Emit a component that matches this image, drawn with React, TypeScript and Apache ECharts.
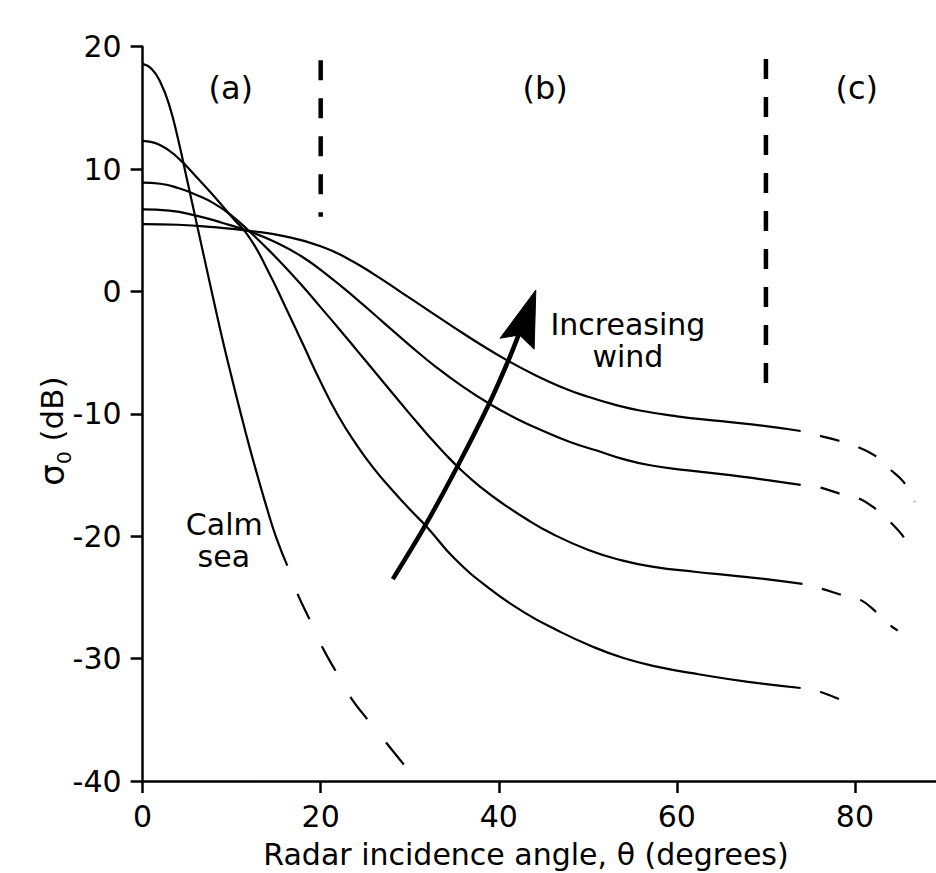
import React, { useEffect, useRef } from "react";
import * as echarts from "echarts";

// ---------- data ----------
const X_TICKS = [0, 20, 40, 60, 80];
const Y_TICKS = [-40, -30, -20, -10, 0, 10, 20];

// Calm sea curve (solid part, then dashed extrapolation)
const CALM_SEA = [
  [0, 18.6], [1, 18.2], [2, 17.1], [3, 15.2], [4, 12.4], [5, 9.1], [6, 5.8],
  [7, 2.5], [8, -0.8], [9, -4.0], [10, -7.0], [11, -9.9], [12, -12.7],
  [13, -15.3], [14, -17.8], [15, -20.1], [16.25, -22.4],
];
const CALM_SEA_EXT = [
  [16.25, -22.4], [17.4, -24.7], [18.75, -26.8], [20.2, -29.1], [21.75, -31.1],
  [23.4, -33.2], [25.4, -35.1], [27.5, -37.0], [29.5, -38.8],
];

// Wind curves, lowest wind first
const WIND_1 = [
  [0, 12.3], [2, 11.95], [4, 10.9], [6, 9.4], [8, 7.8], [10, 6.1], [12, 4.4],
  [14, 1.8], [16, -1.2], [18, -4.3], [20, -7.4], [22, -10.2], [24, -12.5],
  [26, -14.5], [28, -16.2], [30, -17.8], [32, -19.3], [35, -21.8], [39, -24.3],
  [42.8, -26.2], [46.6, -27.7], [50.3, -28.95], [54, -29.95], [58, -30.7],
  [62.6, -31.3], [68, -31.9], [73.9, -32.4],
];
const WIND_1_EXT = [[73.9, -32.4], [75.6, -32.6], [78.5, -33.4]];

const WIND_2 = [
  [0, 8.9], [2, 8.8], [4, 8.45], [6, 7.9], [8, 7.2], [10, 6.2], [12, 4.9],
  [14, 3.5], [16, 2.0], [18, 0.4], [20, -1.3], [22, -3.0], [24, -4.75],
  [26, -6.5], [28, -8.25], [30, -10.0], [32, -11.7], [34, -13.3], [36, -14.75],
  [38, -16.0], [40, -17.1], [43, -18.55], [46, -19.8], [50, -21.1],
  [53.7, -21.95], [57.4, -22.5], [62, -22.9], [66, -23.2], [70, -23.5],
  [74.1, -23.9],
];
const WIND_2_EXT = [
  [74.1, -23.9], [76.3, -24.3], [78.5, -24.8], [80.6, -25.2], [82.4, -26.2],
  [84.0, -27.3], [84.8, -27.7],
];

const WIND_3 = [
  [0, 6.7], [3, 6.6], [6, 6.2], [9, 5.6], [12, 4.9], [15, 4.0], [18, 2.8],
  [21, 1.2], [24, -0.6], [27, -2.5], [30, -4.4], [33, -6.2], [36, -7.8],
  [39, -9.2], [42, -10.4], [45, -11.4], [48, -12.3], [51, -13.0], [54, -13.7],
  [57, -14.2], [61, -14.6], [66, -15.0], [70, -15.4], [73.9, -15.8],
];
const WIND_3_EXT = [
  [73.9, -15.8], [76.0, -16.0], [78.2, -16.5], [80.4, -16.9], [82.2, -17.7],
  [83.9, -18.8], [85.4, -20.0], [86.6, -21.4],
];

const WIND_4 = [
  [0, 5.5], [4, 5.45], [8, 5.25], [12, 4.95], [16, 4.5], [20, 3.7],
  [23, 2.7], [26, 1.4], [29, -0.05], [32, -1.5], [35, -2.95], [38, -4.35],
  [41, -5.65], [44, -6.8], [47, -7.8], [50, -8.6], [53, -9.25], [56, -9.75],
  [60, -10.2], [65, -10.6], [70, -11.0], [73.9, -11.4],
];
const WIND_4_EXT = [
  [73.9, -11.4], [76.1, -11.8], [78.2, -12.2], [80.3, -12.7], [82.2, -13.4],
  [83.9, -14.5], [85.5, -15.6], [86.7, -17.2],
];

// Region boundaries (dashed verticals)
const BOUNDARY_AB = [[20, 18.9], [20, 6.1]];
const BOUNDARY_BC = [[70, 19.0], [70, -8.0]];

// Increasing-wind arrow (data coordinates)
const ARROW_SHAFT = [
  [28.1, -23.5], [31.6, -19.3], [35.5, -14.1], [38.9, -9.2], [41.1, -5.6],
  [42.3, -3.4],
];
const ARROW_HEAD = [[44.16, 0.12], [43.97, -4.72], [42.32, -3.55], [40.15, -3.82]];

// Annotation texts
const REGION_NAMES = ["(a)", "(b)", "(c)"];
const REGION_NAME_POS = [[9.9, 16.6], [45.2, 16.6], [80.2, 16.6]];
const CALM_LABEL = ["Calm", "sea"];
const CALM_LABEL_POS = [[9.17, -19.05], [9.12, -21.66]];
const WIND_LABEL = ["Increasing", "wind"];
const WIND_LABEL_POS = [[54.5, -2.7], [54.5, -5.3]];

const FONT = "'DejaVu Sans', 'Liberation Sans', sans-serif";

export default function App() {
  const ref = useRef<HTMLDivElement>(null);

  useEffect(() => {
    if (!ref.current) return;
    const chart = echarts.init(ref.current, null, { renderer: "svg" });

    const curve = (name: string, data: number[][]) => ({
      type: "line",
      name,
      data,
      showSymbol: false,
      symbol: "none",
      smooth: 0.5,
      silent: true,
      lineStyle: { color: "#000", width: 2.2 },
      z: 3,
    });
    const dashed = (name: string, data: number[][], dash: number[]) => ({
      type: "line",
      name,
      data,
      showSymbol: false,
      symbol: "none",
      smooth: 0.4,
      silent: true,
      lineStyle: { color: "#000", width: 2.2, type: dash, dashOffset: dash[0] },
      z: 3,
    });
    const boundary = (name: string, data: number[][]) => ({
      type: "line",
      name,
      data,
      showSymbol: false,
      symbol: "none",
      silent: true,
      lineStyle: { color: "#000", width: 4.5, type: [20, 18], cap: "butt" },
      z: 2,
    });

    const axisCommon = {
      axisLine: { show: true, onZero: false, lineStyle: { color: "#000", width: 2.5 } },
      axisTick: { show: true, inside: false, length: 12, lineStyle: { color: "#000", width: 2.5 } },
      splitLine: { show: false },
    };

    chart.setOption({
      animation: false,
      backgroundColor: "#fff",
      grid: {
        left: 142.6,
        right: 0,
        top: 46.7,
        bottom: 92,
        containLabel: false,
        outerBoundsMode: "none",
      },
      xAxis: {
        type: "value",
        min: 0,
        max: 89.1,
        interval: 20,
        ...axisCommon,
        axisTick: { ...axisCommon.axisTick, customValues: X_TICKS },
        axisLabel: {
          customValues: X_TICKS,
          color: "#000",
          fontSize: 30,
          fontFamily: FONT,
          margin: 20,
          hideOverlap: false,
        },
      },
      yAxis: {
        type: "value",
        min: -40,
        max: 20,
        interval: 10,
        ...axisCommon,
        axisTick: { ...axisCommon.axisTick, customValues: Y_TICKS },
        axisLabel: {
          customValues: Y_TICKS,
          color: "#000",
          fontSize: 30,
          fontFamily: FONT,
          margin: 21,
          hideOverlap: false,
        },
      },
      series: [
        curve("Calm sea", CALM_SEA),
        dashed("Calm sea (extrapolated)", CALM_SEA_EXT, [28, 30]),
        curve("Wind 1", WIND_1),
        dashed("Wind 1 (extrapolated)", WIND_1_EXT, [20, 20]),
        curve("Wind 2", WIND_2),
        dashed("Wind 2 (extrapolated)", WIND_2_EXT, [20, 20]),
        curve("Wind 3", WIND_3),
        dashed("Wind 3 (extrapolated)", WIND_3_EXT, [20, 20]),
        curve("Wind 4", WIND_4),
        dashed("Wind 4 (extrapolated)", WIND_4_EXT, [20, 20]),
        boundary("Boundary a-b", BOUNDARY_AB),
        boundary("Boundary b-c", BOUNDARY_BC),
      ],
    });

    const px = (pt: number[]) => chart.convertToPixel({ gridIndex: 0 }, pt) as number[];
    const textEl = (text: string, pos: number[], size: number) => {
      const p = px(pos);
      return {
        type: "text",
        x: p[0],
        y: p[1],
        silent: true,
        z: 10,
        style: {
          text,
          fill: "#000",
          fontSize: size,
          fontFamily: FONT,
          align: "center",
          verticalAlign: "middle",
          textAlign: "center",
          textVerticalAlign: "middle",
        },
      };
    };

    const graphics: any[] = [];
    REGION_NAMES.forEach((t, i) => graphics.push(textEl(t, REGION_NAME_POS[i], 32)));
    CALM_LABEL.forEach((t, i) => graphics.push(textEl(t, CALM_LABEL_POS[i], 30)));
    WIND_LABEL.forEach((t, i) => graphics.push(textEl(t, WIND_LABEL_POS[i], 30)));

    graphics.push({
      type: "polyline",
      silent: true,
      z: 9,
      shape: { points: ARROW_SHAFT.map(px), smooth: 0.3 },
      style: { stroke: "#000", lineWidth: 4.5, fill: null, lineCap: "butt" },
    });
    graphics.push({
      type: "polygon",
      silent: true,
      z: 9,
      shape: { points: ARROW_HEAD.map(px) },
      style: { fill: "#000", stroke: "#000", lineWidth: 1 },
    });

    // Axis titles
    graphics.push({
      type: "text",
      x: 526,
      y: 854.6,
      silent: true,
      style: {
        text: "Radar incidence angle, θ (degrees)",
        fill: "#000",
        fontSize: 30,
        fontFamily: FONT,
        align: "center",
        verticalAlign: "middle",
        textAlign: "center",
        textVerticalAlign: "middle",
      },
    });
    graphics.push({
      type: "text",
      x: 52,
      y: 431,
      rotation: Math.PI / 2,
      silent: true,
      style: {
        text: "{s|σ}{b|0}{n| (dB)}",
        fill: "#000",
        fontFamily: FONT,
        fontSize: 32,
        align: "center",
        verticalAlign: "middle",
        textAlign: "center",
        textVerticalAlign: "middle",
        rich: {
          s: { fontSize: 34, fontFamily: FONT, lineHeight: 44, verticalAlign: "middle", fill: "#000" },
          b: { fontSize: 20, fontFamily: FONT, lineHeight: 44, verticalAlign: "bottom", fill: "#000" },
          n: { fontSize: 31, fontFamily: FONT, lineHeight: 44, verticalAlign: "middle", fill: "#000" },
        },
      },
    });

    chart.setOption({ graphic: graphics });

    return () => chart.dispose();
  }, []);

  return (
    <div
      ref={ref}
      style={{ position: "absolute", left: 0, top: 0, width: 936, height: 873, background: "#fff" }}
    />
  );
}
